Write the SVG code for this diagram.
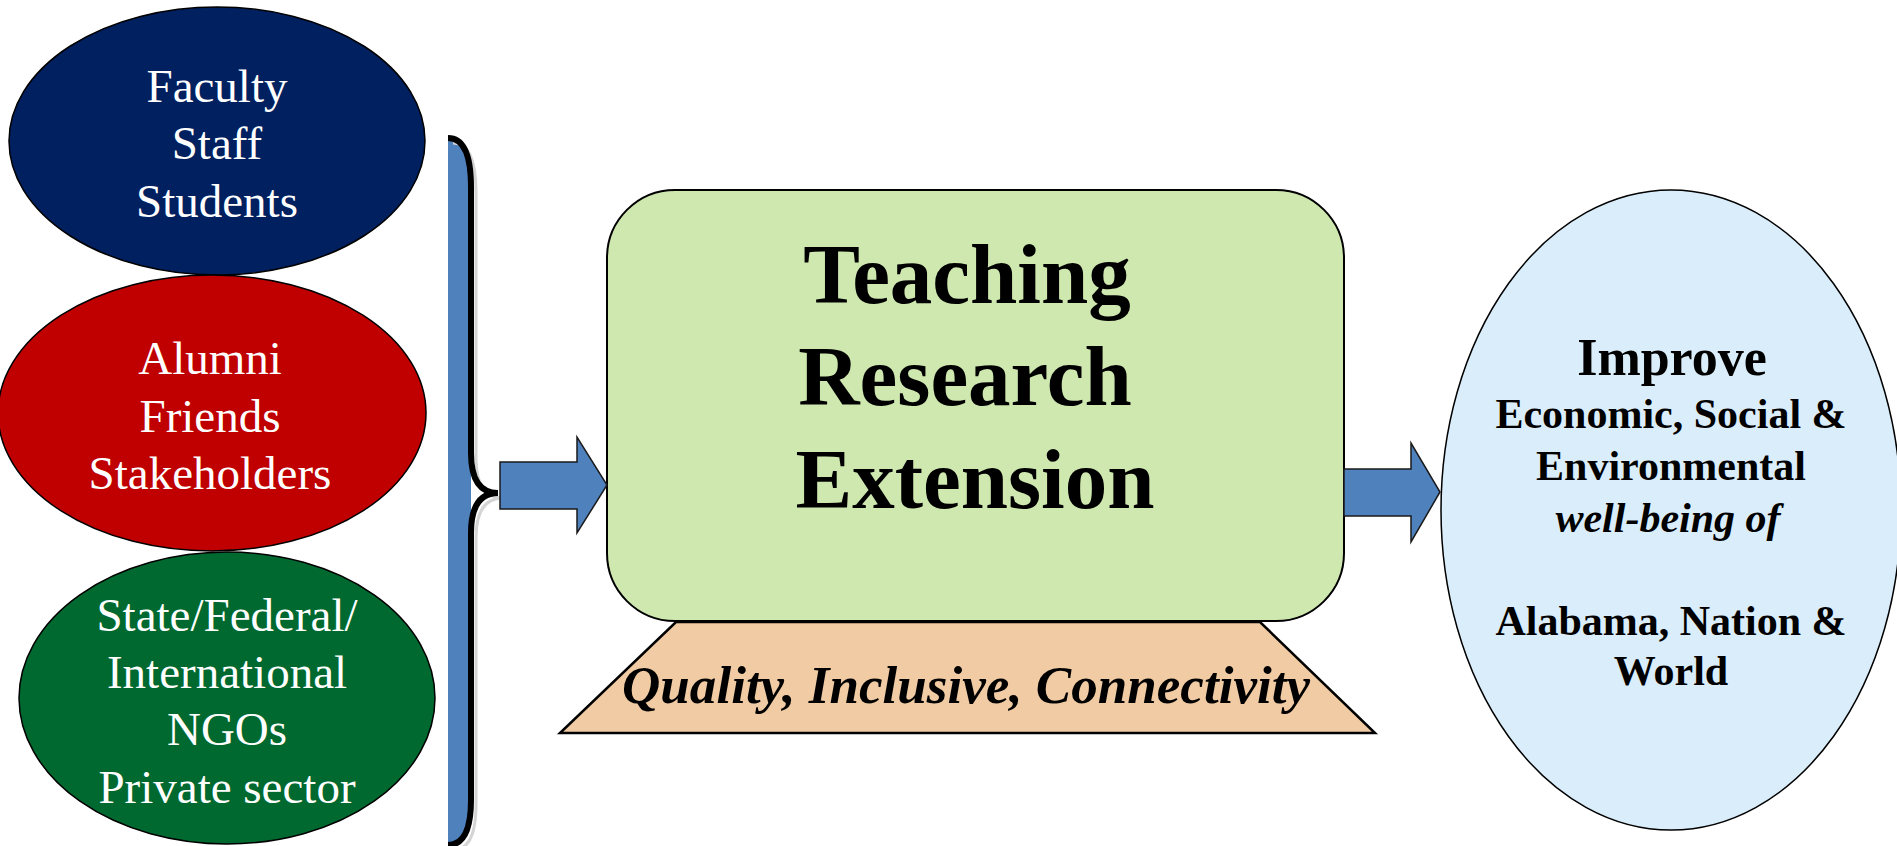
<svg xmlns="http://www.w3.org/2000/svg" width="1897" height="846" viewBox="0 0 1897 846">
<style>
.lt{font-family:"Liberation Serif","Times New Roman",serif;font-size:47px;fill:#ffffff;text-anchor:middle}
.mt{font-family:"Liberation Serif","Times New Roman",serif;font-size:85px;font-weight:bold;fill:#000;text-anchor:middle}
.rt{font-family:"Liberation Serif","Times New Roman",serif;font-size:42px;font-weight:bold;fill:#000;text-anchor:middle}
.big{font-size:52px}
.it{font-style:italic}
.ol{stroke:#000;stroke-width:1.5}
.arr{fill:#4F81BD;stroke:#1a1a1a;stroke-width:1.5}
</style>
<rect width="1897" height="846" fill="#ffffff"/>
<g id="node-faculty">
<ellipse class="ol" cx="217" cy="141" rx="208" ry="134" fill="#002060"/>
<text class="lt" x="217" y="102">Faculty</text>
<text class="lt" x="217" y="159">Staff</text>
<text class="lt" x="217" y="217">Students</text>
</g>
<g id="node-alumni">
<ellipse class="ol" cx="212" cy="413" rx="214" ry="138" fill="#C00000"/>
<text class="lt" x="210" y="374">Alumni</text>
<text class="lt" x="210" y="432">Friends</text>
<text class="lt" x="210" y="489">Stakeholders</text>
</g>
<g id="node-state">
<ellipse class="ol" cx="227" cy="698" rx="208" ry="146" fill="#00692F"/>
<text class="lt" x="227" y="631">State/Federal/</text>
<text class="lt" x="227" y="688">International</text>
<text class="lt" x="227" y="745">NGOs</text>
<text class="lt" x="227" y="803">Private sector</text>
</g>
<g id="brace">
<path d="M448,138 Q471,138 471,187 L471,800 Q471,845 448,845 Z" fill="#4F81BD"/>
<path d="M453,143 Q476,143 476,192 L476,458 Q476,498 503,498 Q476,498 476,538 L476,805 Q476,850 453,850" fill="none" stroke="#d4d4d4" stroke-width="3"/>
<path d="M448,138 Q471,138 471,187 L471,453 Q471,493 498,493 Q471,493 471,533 L471,800 Q471,845 448,845" fill="none" stroke="#000" stroke-width="6"/>
</g>
<g id="node-base">
<polygon points="676,622 1260,622 1375,733 560,733" fill="#F1CBA4" stroke="#000" stroke-width="2.5"/>
<text x="966" y="703" font-family="'Liberation Serif','Times New Roman',serif" font-size="53" font-weight="bold" font-style="italic" text-anchor="middle" textLength="688" lengthAdjust="spacingAndGlyphs">Quality, Inclusive, Connectivity</text>
</g>
<g id="node-core">
<rect x="607" y="190" width="737" height="431" rx="68" ry="68" fill="#CFE8AF" stroke="#000" stroke-width="2"/>
<text class="mt" x="967" y="303">Teaching</text>
<text class="mt" x="965" y="405">Research</text>
<text class="mt" x="975" y="508">Extension</text>
</g>
<g id="node-outcome">
<ellipse class="ol" cx="1671" cy="510" rx="230" ry="320" fill="#DAEDFA"/>
<text class="rt big" x="1672" y="375">Improve</text>
<text class="rt" x="1671" y="428">Economic, Social &amp;</text>
<text class="rt" x="1671" y="480">Environmental</text>
<text class="rt it" x="1668" y="532">well-being of</text>
<text class="rt" x="1671" y="635">Alabama, Nation &amp;</text>
<text class="rt" x="1671" y="685">World</text>
</g>
<g id="connectors">
<polygon class="arr" points="500,462 577,462 577,437 607,485 577,533 577,509 500,509"/>
<polygon class="arr" points="1344,469 1411,469 1411,443 1440,492 1411,542 1411,516 1344,516"/>
</g>
</svg>
